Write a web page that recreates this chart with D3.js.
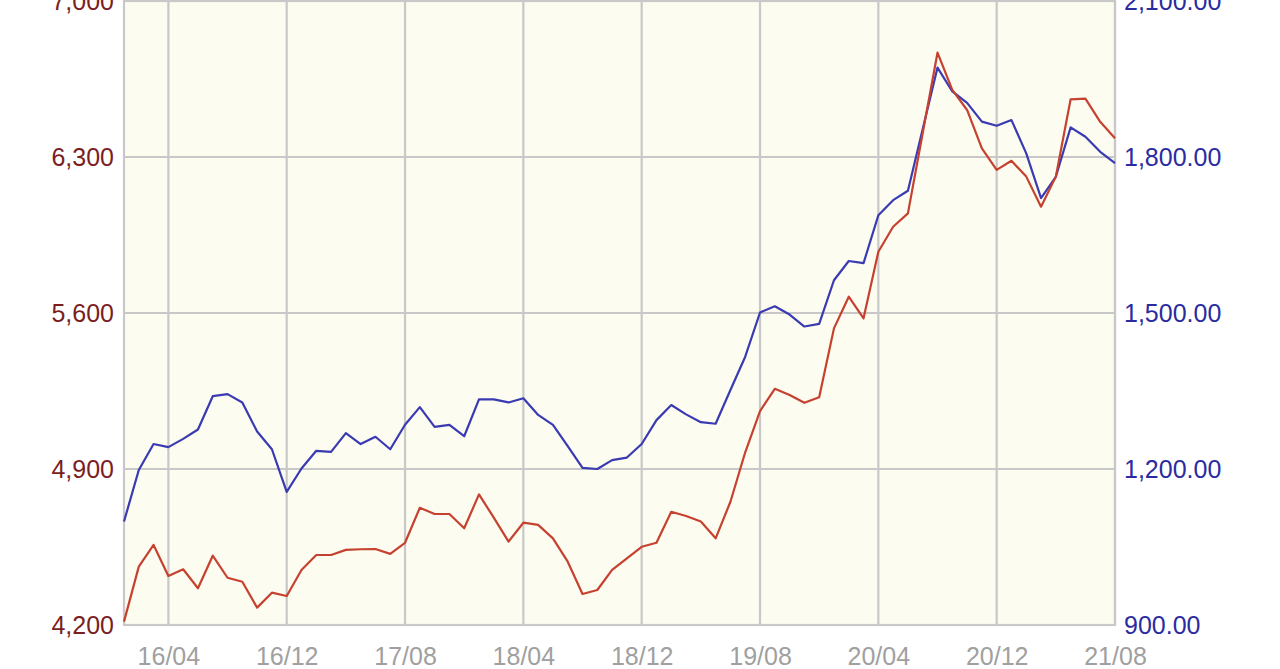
<!DOCTYPE html>
<html><head><meta charset="utf-8">
<script src="https://cdn.jsdelivr.net/npm/d3@7"></script>
<style>
html,body{margin:0;padding:0;background:#fff;}
svg{display:block;}
</style></head>
<body>
<svg id="chart" width="1280" height="669"></svg>
<script>
// Monthly categories 2016/01 .. 2021/08
const months = d3.timeMonth.range(new Date(2016,0,1), new Date(2021,8,1)).map(d3.timeFormat("%y/%m"));
const tickLabels = ["16/04","16/12","17/08","18/04","18/12","19/08","20/04","20/12","21/08"];
const leftTicks = [4200,4900,5600,6300,7000];
const rightTicks = [900,1200,1500,1800,2100];
// left axis series (red)
const redSeries = [4215,4462,4559,4420,4450,4365,4511,4412,4394,4278,4345,4330,4447,4514,4514,4537,4540,4541,4519,4569,
  4726,4698,4698,4634,4786,4682,4574,4659,4649,4589,4484,4339,4357,4447,4499,4551,4569,4708,4689,4664,
  4589,4753,4975,5160,5260,5232,5197,5222,5531,5673,5576,5875,5987,6047,6408,6768,6601,6511,6339,6242,
  6283,6212,6077,6212,6559,6562,6458,6384];
// right axis series (blue)
const blueSeries = [1099,1198,1248,1242,1258,1276,1340,1344,1328,1272,1238,1156,1201,1235,1233,1269,1248,1262,1238,1285,
  1319,1281,1285,1263,1334,1334,1328,1336,1304,1285,1244,1202,1200,1217,1222,1248,1294,1323,1305,1290,
  1287,1352,1416,1501,1513,1497,1474,1479,1563,1600,1596,1688,1717,1735,1854,1972,1926,1904,1868,1860,
  1871,1807,1721,1762,1857,1839,1810,1788];

const L = 124, R = 1115, T = 1, B = 625;
const svg = d3.select("#chart");
const x = d3.scalePoint().domain(months).range([L, R]).padding(0);
const yL = d3.scaleLinear().domain([4200,7000]).range([B, T]);
const yR = d3.scaleLinear().domain([900,2100]).range([B, T]);

svg.append("rect").attr("x",L).attr("y",T).attr("width",R-L).attr("height",B-T).attr("fill","#fcfcf0");

const gridColor = "#c8c8c8";
// horizontal grid
svg.append("g").selectAll("line").data(leftTicks).join("line")
  .attr("x1",L).attr("x2",R).attr("y1",d=>yL(d)).attr("y2",d=>yL(d))
  .attr("stroke",gridColor).attr("stroke-width",2.2);
// vertical grid
svg.append("g").selectAll("line").data(tickLabels).join("line")
  .attr("x1",d=>x(d)).attr("x2",d=>x(d)).attr("y1",T).attr("y2",B)
  .attr("stroke",gridColor).attr("stroke-width",2.2);
// frame
svg.append("rect").attr("x",L).attr("y",T).attr("width",R-L).attr("height",B-T)
  .attr("fill","none").attr("stroke",gridColor).attr("stroke-width",2.2);

const font = "Liberation Sans, Arial, Helvetica, sans-serif";
// left axis
const axL = svg.append("g").attr("transform",`translate(${L},0)`)
  .call(d3.axisLeft(yL).tickValues(leftTicks).tickFormat(d3.format(",")).tickSize(0).tickPadding(10));
axL.select(".domain").remove();
axL.selectAll("text").attr("fill","#7a1e1e").style("font-family",font).style("font-size","25px");
// right axis
const axR = svg.append("g").attr("transform",`translate(${R},0)`)
  .call(d3.axisRight(yR).tickValues(rightTicks).tickFormat(d3.format(",.2f")).tickSize(0).tickPadding(9));
axR.select(".domain").remove();
axR.selectAll("text").attr("fill","#2b2ba0").style("font-family",font).style("font-size","25px");
// bottom axis
const axB = svg.append("g").attr("transform",`translate(0,${B})`)
  .call(d3.axisBottom(x).tickValues(tickLabels).tickSize(0).tickPadding(22));
axB.select(".domain").remove();
axB.selectAll("text").attr("fill","#a0a0a0").style("font-family",font).style("font-size","25px");

// lines
const lineB = d3.line().x((d,i)=>x(months[i])).y(d=>yR(d));
const lineR = d3.line().x((d,i)=>x(months[i])).y(d=>yL(d));
svg.append("path").datum(blueSeries).attr("d",lineB).attr("fill","none")
  .attr("stroke","#3a3ab2").attr("stroke-width",2.2).attr("stroke-linejoin","round");
svg.append("path").datum(redSeries).attr("d",lineR).attr("fill","none")
  .attr("stroke","#c6412f").attr("stroke-width",2.2).attr("stroke-linejoin","round");
</script>
</body></html>
